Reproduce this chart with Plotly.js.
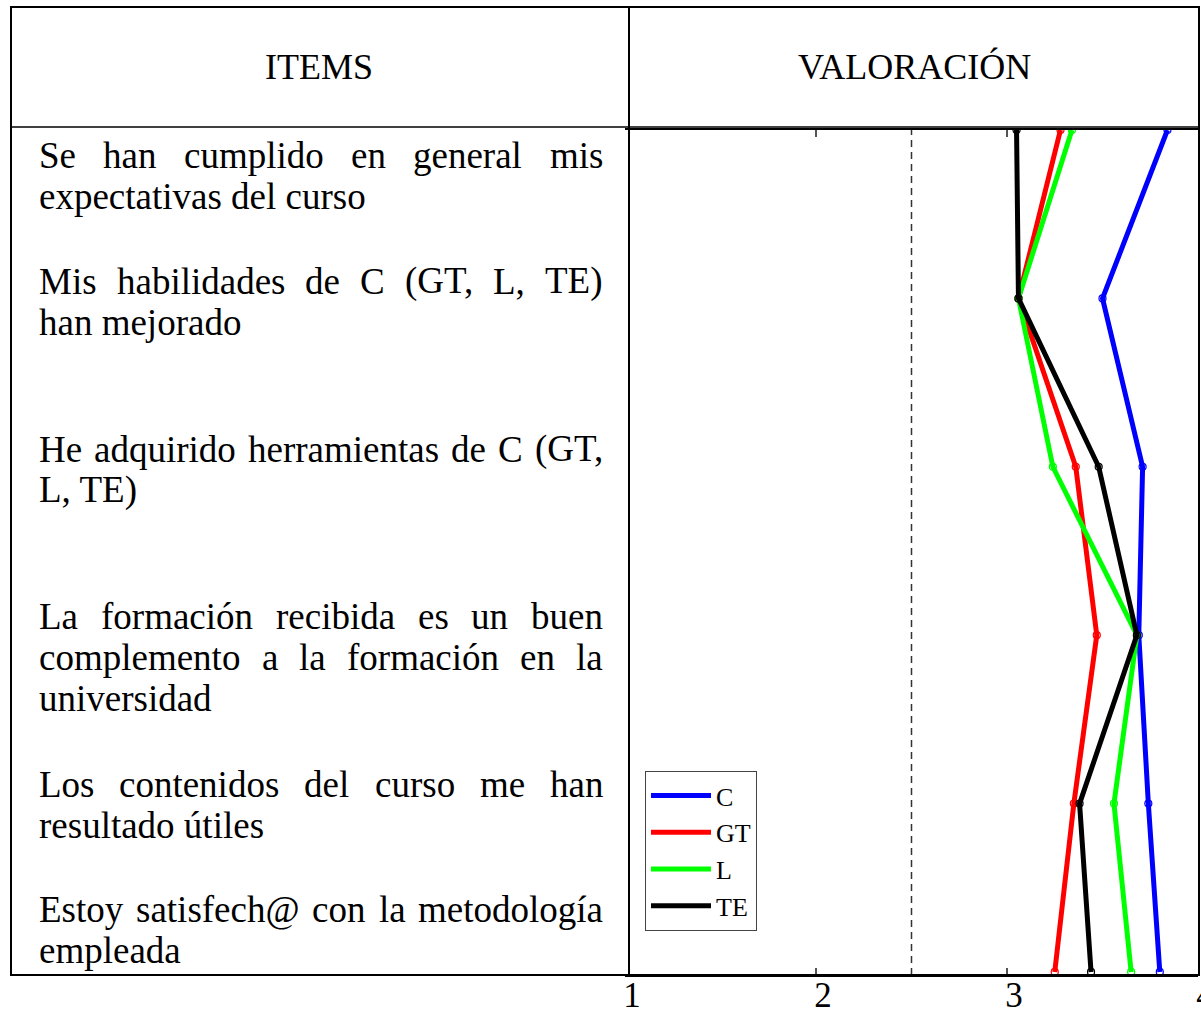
<!DOCTYPE html>
<html><head><meta charset="utf-8">
<script src="https://cdn.plot.ly/plotly-3.0.1.min.js"></script>
<style>body{margin:0;background:#fff}#chart{width:1201px;height:1011px}</style>
</head><body><div id="chart"></div>
<script>
// ---------- data ----------
const seriesNames = ['C', 'GT', 'L', 'TE'];
const itemIndex = [1, 2, 3, 4, 5, 6];
const valuesC  = [3.84, 3.50, 3.71, 3.69, 3.74, 3.80];
const valuesGT = [3.28, 3.06, 3.36, 3.47, 3.35, 3.25];
const valuesL  = [3.34, 3.06, 3.24, 3.68, 3.56, 3.65];
const valuesTE = [3.05, 3.06, 3.48, 3.68, 3.38, 3.44];
const xTickVals = [1, 2, 3, 4];
const xTickText = ['1', '2', '3', '4'];
const referenceValue = 2.5;
const headerItems = 'ITEMS';
const headerValue = 'VALORACIÓN';
const itemLines = [
  ['Se han cumplido en general mis', 'expectativas del curso'],
  ['Mis habilidades de C (GT, L, TE)', 'han mejorado'],
  ['He adquirido herramientas de C (GT,', 'L, TE)'],
  ['La formación recibida es un buen', 'complemento a la formación en la', 'universidad'],
  ['Los contenidos del curso me han', 'resultado útiles'],
  ['Estoy satisfech@ con la metodología', 'empleada']
];

// ---------- styling / layout ----------
const seriesValues = [valuesC, valuesGT, valuesL, valuesTE];
const seriesColors = ['#0000ff', '#ff0000', '#00ff00', '#000000'];
const W = 1201, H = 1011;
const M = {l: 625, r: 3, t: 130, b: 36};
const pw = W - M.l - M.r, ph = H - M.t - M.b;
const px2x = px => (px - M.l) / pw;
const py2y = py => (H - M.b - py) / ph;
const FONT = 'Liberation Serif, Times New Roman, serif';
const textSize = 37;
const textLeft = 38, textRight = 602;
const firstLineCenters = [155, 281, 449, 616, 784, 909];
const lineGap = 41;

const canvas = document.createElement('canvas');
const ctx = canvas.getContext('2d');
ctx.font = textSize + "px 'Liberation Serif'";
const measure = s => ctx.measureText(s).width;

const annotations = [];
function addText(txt, pxX, pyC, size, anchor) {
  annotations.push({
    text: txt, xref: 'paper', yref: 'paper', x: px2x(pxX), y: py2y(pyC),
    xanchor: anchor || 'left', yanchor: 'middle', showarrow: false,
    borderpad: 0, font: {family: FONT, size: size, color: '#000'}
  });
}
addText(headerItems, 319, 67, 36, 'center');
addText(headerValue, 914, 67, 36, 'center');

itemLines.forEach((lines, i) => {
  lines.forEach((line, j) => {
    const cy = firstLineCenters[i] + j * lineGap;
    const justify = j < lines.length - 1;
    const words = line.split(' ');
    if (justify && words.length > 1) {
      const widths = words.map(measure);
      const total = widths.reduce((a, b) => a + b, 0);
      const gap = (textRight - textLeft - total) / (words.length - 1);
      let cur = textLeft;
      words.forEach((w, k) => {
        addText(w, cur, cy, textSize, 'left');
        cur += widths[k] + gap;
      });
    } else {
      addText(line, textLeft, cy, textSize, 'left');
    }
  });
});

const lineStyle = {color: '#000', width: 2};
const shapes = [
  {type: 'rect', xref: 'paper', yref: 'paper', x0: px2x(11), x1: px2x(1199), y0: py2y(975), y1: py2y(7), line: lineStyle, layer: 'above'},
  {type: 'line', xref: 'paper', yref: 'paper', x0: px2x(11), x1: px2x(1199), y0: py2y(127), y1: py2y(127), line: {color: '#000', width: 1.5}, layer: 'above'},
  {type: 'line', xref: 'paper', yref: 'paper', x0: px2x(629), x1: px2x(629), y0: py2y(7), y1: py2y(975), line: lineStyle, layer: 'above'},
  {type: 'line', xref: 'x', yref: 'paper', x0: referenceValue, x1: referenceValue, y0: 0, y1: 1, line: {color: '#333', width: 1.5, dash: '7px,5px'}, layer: 'below'}
];

const traces = [];
seriesNames.forEach((name, s) => {
  traces.push({
    type: 'scatter', mode: 'lines', name: name,
    x: seriesValues[s], y: itemIndex,
    line: {color: seriesColors[s], width: 5}
  });
  traces.push({
    type: 'scatter', mode: 'markers', name: name, showlegend: false,
    x: seriesValues[s], y: itemIndex,
    marker: {symbol: 'circle-open', size: 7, color: seriesColors[s], line: {width: 1.2}}
  });
});

const layout = {
  width: W, height: H, autosize: false,
  margin: {l: M.l, r: M.r, t: M.t, b: M.b, pad: 0},
  paper_bgcolor: '#fff', plot_bgcolor: '#fff',
  showlegend: true,
  legend: {
    x: px2x(645), y: py2y(771), xanchor: 'left', yanchor: 'top',
    bgcolor: '#fff', bordercolor: '#444', borderwidth: 1,
    font: {family: FONT, size: 26, color: '#000'},
    itemwidth: 60, tracegroupgap: 0
  },
  xaxis: {
    range: [1, 4], tickvals: xTickVals, ticktext: xTickText,
    ticks: 'inside', ticklen: 7, tickwidth: 1.5, tickcolor: '#555',
    showline: true, linecolor: '#000', linewidth: 2, mirror: 'ticks',
    showgrid: false, zeroline: false, fixedrange: true,
    ticklabelshift: 7, ticklabelstandoff: -12, ticklabeloverflow: 'allow',
    tickfont: {family: FONT, size: 35, color: '#000'}
  },
  yaxis: {
    range: [6.018, 1], visible: false, showgrid: false, zeroline: false, fixedrange: true
  },
  shapes: shapes,
  annotations: annotations
};

Plotly.newPlot('chart', traces, layout, {displayModeBar: false, staticPlot: true});
</script>
</body></html>
